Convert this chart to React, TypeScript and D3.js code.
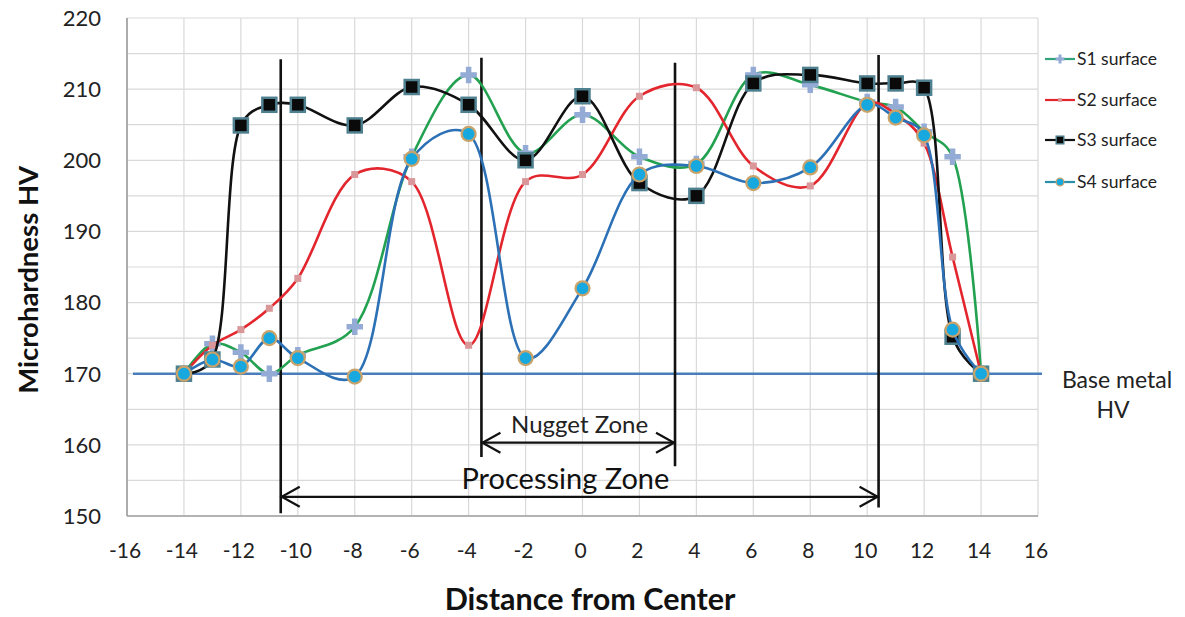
import React from "react";
import * as d3 from "d3";

// distance from the weld centre (mm) and the four surface profiles
const distance = [-14, -13, -12, -11, -10, -8, -6, -4, -2, 0, 2, 4, 6, 8, 10, 11, 12, 13, 14];
const s1Surface = [170, 174.2, 173, 170, 172.6, 176.6, 200.5, 212, 201, 206.4, 200.5, 199.5, 212, 210.6, 208.2, 207.5, 204, 200.5, 170];
const s2Surface = [170, 174, 176.2, 179.2, 183.4, 198, 197, 174, 197, 198, 209, 210.2, 199.2, 196.4, 208, 206.5, 202.4, 186.4, 170];
const s3Surface = [170, 172, 204.9, 207.8, 207.8, 204.9, 210.3, 207.8, 200, 209, 196.8, 195, 210.8, 212, 210.8, 210.8, 210.2, 175.2, 170];
const s4Surface = [170, 172, 171, 175, 172.2, 169.6, 200.2, 203.7, 172.2, 182, 198, 199.2, 196.8, 199, 207.8, 206, 203.5, 176.2, 170];

const seriesNames = ["S1 surface", "S2 surface", "S3 surface", "S4 surface"];
const xTicks = [-16, -14, -12, -10, -8, -6, -4, -2, 0, 2, 4, 6, 8, 10, 12, 14, 16];
const yTicks = [150, 160, 170, 180, 190, 200, 210, 220];
const yGrid = [150, 155, 160, 165, 170, 175, 180, 185, 190, 195, 200, 205, 210, 215, 220];
const baseMetalHV = 170;

// zone boundaries [x, top, bottom] in data units
const zoneLines = [
  [-10.6, 214.2, 150.4],
  [-3.55, 214.4, 158.3],
  [3.25, 213.7, 157.0],
  [10.4, 214.8, 151.2],
];
const nuggetZone = { from: -3.55, to: 3.25, y: 160.3, labelX: -0.1, labelY: 162.9 };
const processingZone = { from: -10.6, to: 10.4, y: 152.7, labelX: -0.6, labelY: 155.2 };

const W = 1185;
const H = 617;
const font = "Lato, 'Open Sans', sans-serif";

const x = d3.scaleLinear().domain([-16, 16]).range([127, 1038]);
const y = d3.scaleLinear().domain([150, 220]).range([516, 18]);

const colors = ["#22a150", "#e3262d", "#111111", "#2c70b5"];

const line = d3
  .line<[number, number]>()
  .x((d) => x(d[0]))
  .y((d) => y(d[1]))
  .curve(d3.curveCatmullRom.alpha(0.4));

const crossPath = d3.symbol().type(d3.symbolCross).size(150)()!;

function Marker({ kind, cx, cy, small }: { kind: number; cx: number; cy: number; small?: boolean }) {
  const k = small ? 0.55 : 1;
  if (kind === 0)
    return <path d={crossPath} transform={`translate(${cx},${cy}) scale(${k})`} fill="#93abd5" />;
  if (kind === 1)
    return <rect x={cx - 3.5 * k} y={cy - 3.5 * k} width={7 * k} height={7 * k} fill="#d9979a" />;
  if (kind === 2)
    return (
      <rect x={cx - 7 * k} y={cy - 7 * k} width={14 * k} height={14 * k} fill="#0a0a0a" stroke="#4f8090" strokeWidth={2.5 * k} />
    );
  return <circle cx={cx} cy={cy} r={7 * k} fill="#17a8e0" stroke="#c9a36a" strokeWidth={2.2 * k} />;
}

function Arrow({ x1, x2, yy }: { x1: number; x2: number; yy: number }) {
  return (
    <g stroke="#111" strokeWidth={2.2} fill="none">
      <line x1={x1} x2={x2} y1={yy} y2={yy} />
      <polyline points={`${x1 + 19},${yy - 10} ${x1 + 1},${yy} ${x1 + 19},${yy + 10}`} />
      <polyline points={`${x2 - 19},${yy - 10} ${x2 - 1},${yy} ${x2 - 19},${yy + 10}`} />
    </g>
  );
}

export default function App() {
  const all = [s1Surface, s2Surface, s3Surface, s4Surface];
  const legendY = [59, 100, 140, 182];

  return (
    <svg width={W} height={H} style={{ position: "absolute", left: 0, top: 0, background: "#fff" }} fontFamily={font}>
      {/* grid */}
      {yGrid.map((v) => (
        <line key={"h" + v} x1={x(-16)} x2={x(16)} y1={y(v)} y2={y(v)} stroke="#d9d9d9" strokeWidth={1.2} />
      ))}
      {xTicks.map((v) => (
        <line key={"v" + v} x1={x(v)} x2={x(v)} y1={y(220)} y2={y(150)} stroke="#d9d9d9" strokeWidth={1.2} />
      ))}
      <line x1={x(-16)} x2={x(-16)} y1={y(220)} y2={y(150)} stroke="#8c8c8c" strokeWidth={1.3} />
      <line x1={x(-16)} x2={x(16)} y1={y(150)} y2={y(150)} stroke="#a0a0a0" strokeWidth={1.3} />

      {/* tick labels */}
      {yTicks.map((v) => (
        <text key={"yt" + v} x={101} y={y(v)} dy="0.36em" textAnchor="end" fontSize={22} fill="#222">
          {v}
        </text>
      ))}
      {xTicks.map((v) => (
        <text key={"xt" + v} x={x(v) - 2} y={550} dy="0.36em" textAnchor="middle" fontSize={21} fill="#222">
          {v}
        </text>
      ))}
      <text x={590} y={599} dy="0.36em" textAnchor="middle" fontSize={30.5} fontWeight="bold" fill="#111">
        Distance from Center
      </text>
      <text transform={`translate(28,${y(183.2)}) rotate(-90)`} dy="0.36em" textAnchor="middle" fontSize={27.5} fontWeight="bold" fill="#111">
        Microhardness HV
      </text>

      {/* base metal */}
      <line x1={133} x2={1042} y1={y(baseMetalHV)} y2={y(baseMetalHV)} stroke="#4a7ebb" strokeWidth={2.6} />
      <text x={1117} y={380} dy="0.36em" textAnchor="middle" fontSize={23} fill="#222">
        Base metal
      </text>
      <text x={1113} y={410} dy="0.36em" textAnchor="middle" fontSize={23} fill="#222">
        HV
      </text>

      {/* zone boundaries */}
      {zoneLines.map(([zx, top, bottom], i) => (
        <line key={"z" + i} x1={x(zx)} x2={x(zx)} y1={y(top)} y2={y(bottom)} stroke="#111" strokeWidth={2.6} />
      ))}
      <Arrow x1={x(nuggetZone.from)} x2={x(nuggetZone.to)} yy={y(nuggetZone.y)} />
      <Arrow x1={x(processingZone.from)} x2={x(processingZone.to)} yy={y(processingZone.y)} />
      <text x={x(nuggetZone.labelX)} y={y(nuggetZone.labelY)} dy="0.36em" textAnchor="middle" fontSize={24} fill="#222">
        Nugget Zone
      </text>
      <text x={x(processingZone.labelX)} y={y(processingZone.labelY)} dy="0.36em" textAnchor="middle" fontSize={29} fill="#111">
        Processing Zone
      </text>

      {/* series */}
      {all.map((vals, si) => {
        const pts = distance.map((d, i) => [d, vals[i]] as [number, number]);
        return (
          <g key={"s" + si}>
            <path d={line(pts) || ""} fill="none" stroke={colors[si]} strokeWidth={2.6} />
            {pts.map((p, i) => (
              <Marker key={i} kind={si} cx={x(p[0])} cy={y(p[1])} />
            ))}
          </g>
        );
      })}

      {/* legend */}
      {seriesNames.map((name, i) => (
        <g key={"l" + i}>
          <line x1={1045} x2={1075} y1={legendY[i]} y2={legendY[i]} stroke={i === 0 ? "#30a37a" : i === 3 ? "#2a8fa8" : colors[i]} strokeWidth={2.2} />
          <Marker kind={i} cx={1060} cy={legendY[i]} small />
          <text x={1077} y={legendY[i]} dy="0.36em" fontSize={17.5} fill="#222">
            {name}
          </text>
        </g>
      ))}
    </svg>
  );
}
